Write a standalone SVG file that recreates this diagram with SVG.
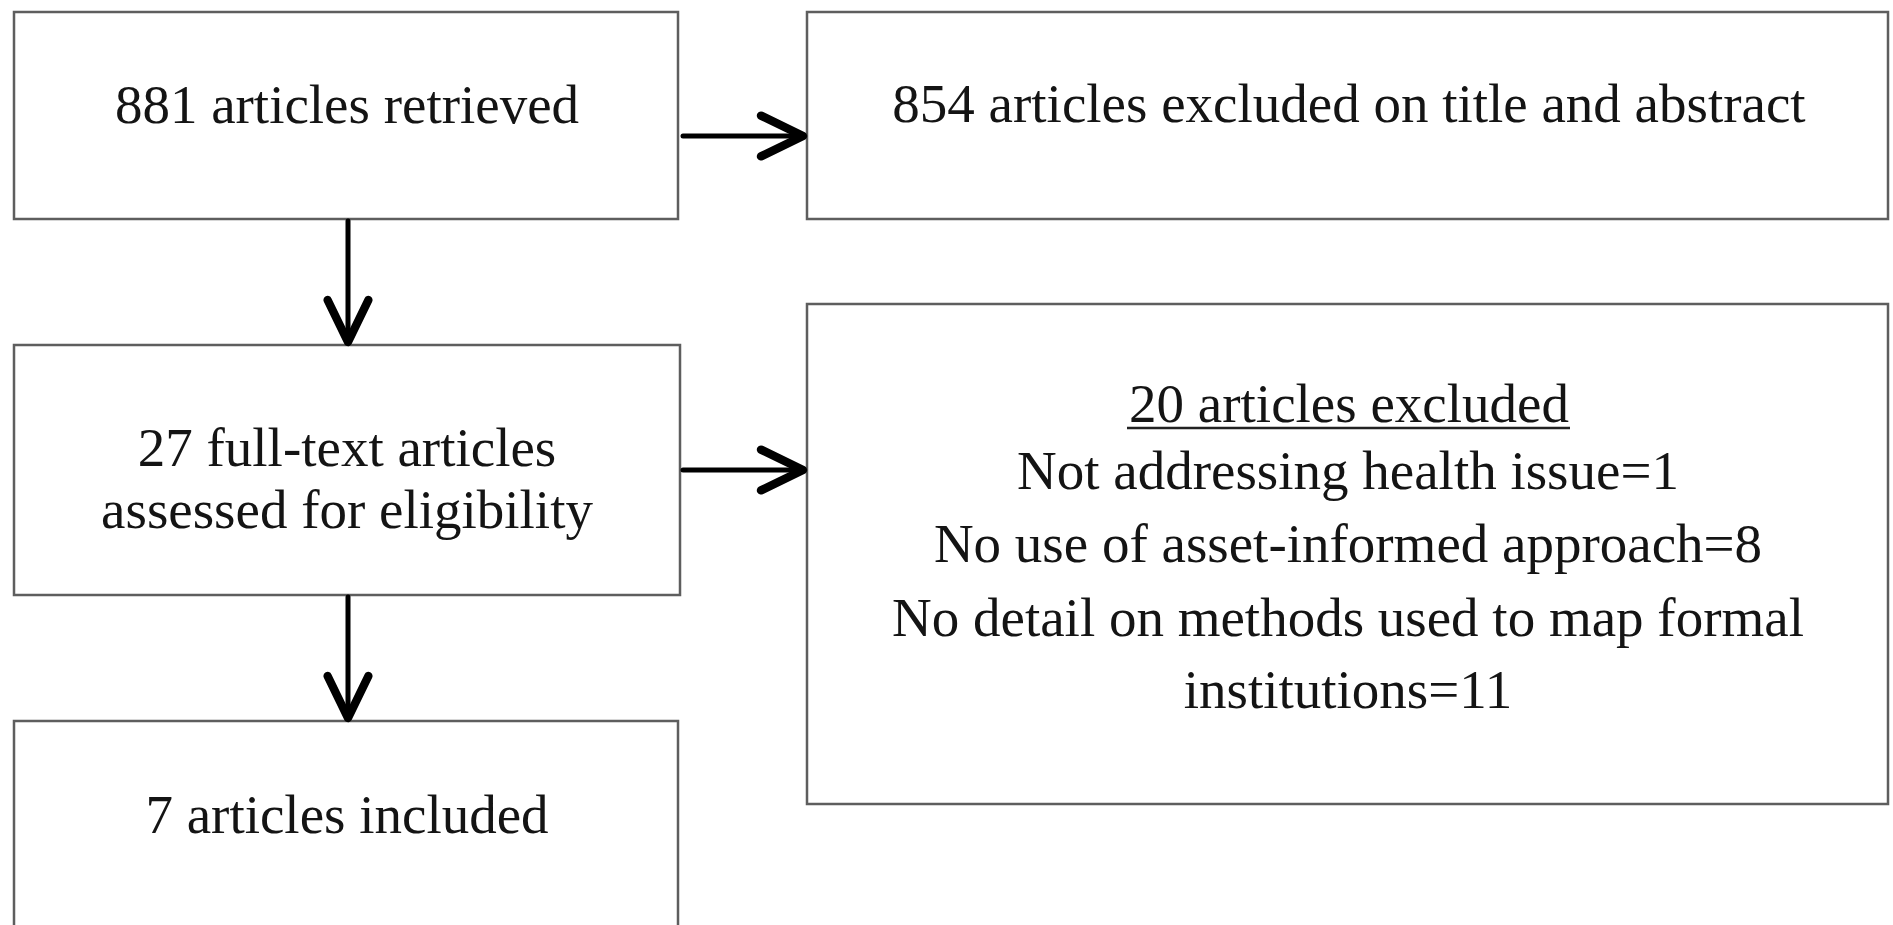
<svg xmlns="http://www.w3.org/2000/svg" width="1893" height="925" viewBox="0 0 1893 925">
<style>
.box{fill:#fff;stroke:#5e5e5e;stroke-width:2.5}
.t{font-family:"Liberation Serif","Times New Roman",serif;font-size:55px;fill:#141414;text-anchor:middle}
.conn{stroke:#000;stroke-width:5;fill:none;stroke-linecap:round;stroke-linejoin:round}
</style>
<defs>
<marker id="chev" markerUnits="userSpaceOnUse" markerWidth="60" markerHeight="60" viewBox="-45 -25 50 50" refX="0" refY="0" orient="auto" overflow="visible">
<path d="M-35,-17 L0,0 L-35,17" fill="none" stroke="#000" stroke-width="7" stroke-linecap="round" stroke-linejoin="round"/>
</marker>
</defs>
<rect width="1893" height="925" fill="#fff"/>
<g id="n1"><rect class="box" x="14" y="12" width="664" height="207"/><text class="t" x="347" y="123">881 articles retrieved</text></g>
<g id="n2"><rect class="box" x="807" y="12" width="1081" height="207"/><text class="t" x="1349" y="122">854 articles excluded on title and abstract</text></g>
<g id="n3"><rect class="box" x="14" y="345" width="666" height="250"/><text class="t" x="347" y="466">27 full-text articles</text><text class="t" x="347" y="528">assessed for eligibility</text></g>
<g id="n4"><rect class="box" x="807" y="304" width="1081" height="500"/>
<text class="t" x="1349" y="422">20 articles excluded</text>
<line x1="1127" y1="428" x2="1570" y2="428" stroke="#222" stroke-width="2.5"/>
<text class="t" x="1348" y="489">Not addressing health issue=1</text>
<text class="t" x="1348" y="562">No use of asset-informed approach=8</text>
<text class="t" x="1348" y="636">No detail on methods used to map formal</text>
<text class="t" x="1348" y="708">institutions=11</text></g>
<g id="n5"><rect class="box" x="14" y="721" width="664" height="230"/><text class="t" x="347" y="833">7 articles included</text></g>
<g id="connectors">
<line class="conn" x1="683" y1="136" x2="803" y2="136" marker-end="url(#chev)"/>
<line class="conn" x1="683" y1="470" x2="803" y2="470" marker-end="url(#chev)"/>
<line class="conn" x1="348" y1="221" x2="348" y2="342" marker-end="url(#chev)"/>
<line class="conn" x1="348" y1="597" x2="348" y2="718" marker-end="url(#chev)"/>
</g>
</svg>
